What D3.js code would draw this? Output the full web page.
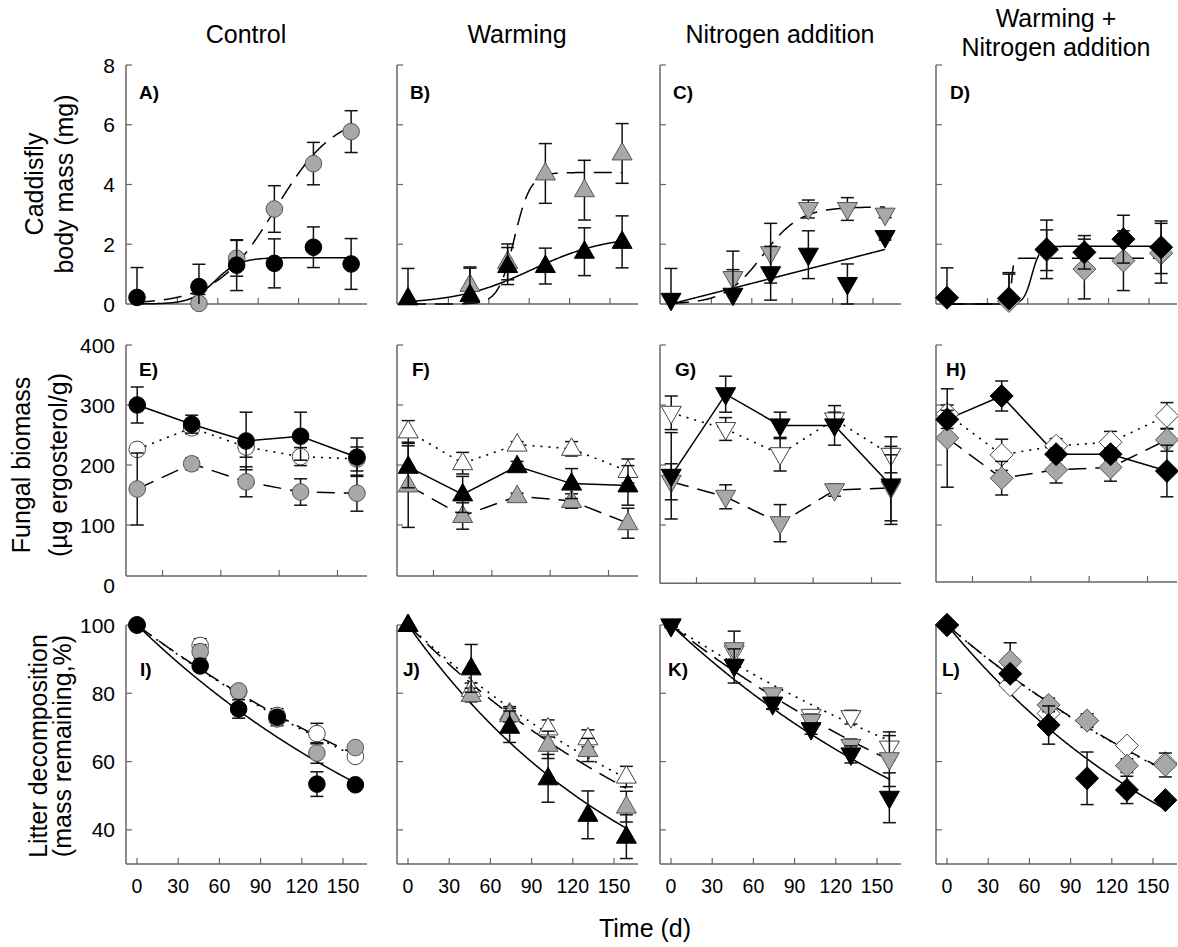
<!DOCTYPE html>
<html><head><meta charset="utf-8">
<script src="https://cdn.jsdelivr.net/npm/d3@7"></script>
<style>body{margin:0;background:#fff}svg{display:block}</style>
</head><body><svg id="c" width="1178" height="947"></svg>
<script>
// ---------- labels ----------
const columnTitles = [["Control"],["Warming"],["Nitrogen addition"],["Warming +","Nitrogen addition"]];
const panelLetters = [["A)","B)","C)","D)"],["E)","F)","G)","H)"],["I)","J)","K)","L)"]];
const rowTitles = [["Caddisfly","body mass (mg)"],["Fungal biomass","(\u00b5g ergosterol/g)"],["Litter decomposition","(mass remaining,%)"]];
const xAxisTitle = "Time (d)";
const shapes = ["circle","up","down","diamond"];

// ---------- x values & ticks ----------
const days = [0,46,74,102,131,159];
const fungalDays = [17,45,73,101,130];
const timeTicks = [0,30,60,90,120,150];
const fungalXTicks = [30,60,90,120];
const massTicks = [0,2,4,6,8];
const fungalTicks = [0,100,200,300,400];
const litterTicks = [40,60,80,100];

// ---------- caddisfly body mass (mg), columns A..D ----------
const caddisBlack = [[0.22,0.58,1.30,1.36,1.90,1.34],[0.19,0.30,1.27,1.27,1.75,2.08],[0.14,0.31,1.03,1.65,0.67,2.24],[0.21,0.19,1.83,1.73,2.17,1.90]];
const caddisBlackErr = [[1.0,0.75,0.85,0.82,0.68,0.85],[1.0,0.9,0.62,0.6,0.8,0.87],[1.05,0.84,0.9,0.8,0.67,0.1],[1.0,0.86,0.98,0.56,0.8,0.88]];
const caddisGray = [[null,0.02,1.53,3.18,4.70,5.77],[null,0.64,1.41,4.37,3.81,5.04],[null,0.87,1.70,3.18,3.18,2.99],[null,0.10,1.80,1.17,1.45,1.70]];
const caddisGrayErr = [[null,0.3,0.6,0.78,0.71,0.7],[null,0.6,0.6,1.0,1.0,1.0],[null,0.9,1.0,0.3,0.38,0.1],[null,0.9,0.68,1.0,1.0,1.0]];
// fitted curves: [a, x0, b] logistic, or [slope] linear
const caddisBlackFit = [[1.55,58,9],[2.3,92,28],[0.0115],[1.93,63,3]];
const caddisGrayFit = [[6.4,103,22],[4.4,79,6],[3.25,68,14],[1.53,48,0.8]];

// ---------- fungal biomass (ug ergosterol/g), columns E..H ----------
const fungalBlack = [[300,268,240,248,213],[197,151,198,169,166],[182,318,266,266,166],[276,315,218,218,190]];
const fungalBlackErr = [[30,15,48,40,32],[35,30,8,25,33],[72,30,22,33,65],[15,25,10,10,43]];
const fungalWhite = [[226,262,230,214,210],[256,203,234,227,190],[287,260,218,276,217],[285,217,232,238,282]];
const fungalWhiteErr = [[6,10,17,15,20],[18,18,5,12,20],[28,19,28,12,30],[15,26,12,18,22]];
const fungalGray = [[160,202,172,155,153],[166,115,148,140,103],[172,147,103,158,162],[245,178,192,196,242]];
const fungalGrayErr = [[60,10,25,22,30],[70,22,5,12,25],[30,20,31,10,55],[82,28,22,23,19]];

// ---------- litter mass remaining (%), columns I..L ----------
const litterBlack = [[100,88.0,75.4,73.0,53.4,53.2],[100,87.3,70.2,55.1,44.4,38.0],[99.7,88.0,77.0,69.5,62.1,49.4],[100,85.7,70.7,55.1,51.7,48.7]];
const litterBlackErr = [[0.5,1.5,2.7,1.5,3.6,1],[0.5,7,4.6,7,7,6.4],[0.5,5,1.5,1.5,2.5,7.3],[0.5,1.5,5.6,7.7,4,1]];
const litterGray = [[100,92.2,80.7,72.5,62.5,64.1],[100,79.5,73.6,64.9,63.4,46.8],[100,92.9,79.7,71.9,64.6,60.7],[100,89.3,76.6,72.0,58.8,59.0]];
const litterGrayErr = [[0.5,2,1.5,2,3,1],[0.5,2,2,4,3.4,4.5],[0.5,5.3,1.5,2,2,8],[0.5,5.5,2,2,2,3.5]];
const litterWhite = [[100,94.0,80.5,73.5,68.2,61.5],[100,81.0,74.1,69.7,66.8,55.6],[100,92,76.8,73.4,73.0,64.1],[100,82.4,74.1,72.0,64.7,59.5]];
const litterWhiteErr = [[0.5,2,1.5,2,3,1],[0.5,2,2,2.5,2.5,3],[0.5,2,1.5,1.5,2,3.5],[0.5,1.5,1.5,1.5,1,1.5]];
// exponential decay rates k (per day): 100*exp(-k t)
const litterBlackK = [0.0039,0.00569,0.00378,0.00488];
const litterGrayK = [0.0030,0.00409,0.00316,0.00348];
const litterWhiteK = [0.00305,0.00375,0.0026,0.0035];

// ---------- layout ----------
const FONT = '"Liberation Sans", Arial, Helvetica, sans-serif';
const colLeft = [126,397,660,936];
const axisW = 241;
const TICK = 6;
const rowsCfg = [
  {yDom:[0,8], yRng:[304,65], yTicks:massTicks, xDom:[0,150], xOff:11, xLen:202, xTicks:timeTicks, xLabels:false, axisVal:[0,0,0,0], letterDx:[13,13,13,14], letterY:99, titleX:[43,73], titleCy:184},
  {yDom:[0,400], yRng:[585,345], yTicks:fungalTicks, xDom:[30,120], xOff:36.5, xLen:175, xTicks:fungalXTicks, xLabels:false, axisVal:[15,15,3,5], letterDx:[13,15,15,10], letterY:376, titleX:[30,67], titleCy:465},
  {yDom:[30,100], yRng:[864,625], yTicks:litterTicks, xDom:[0,150], xOff:11, xLen:206, xTicks:timeTicks, xLabels:true, axisVal:[30,30,30,30], letterDx:[14,6,8,6], letterY:676, titleX:[47,71], titleCy:746}
];
const styles = {
  white:{fill:"#ffffff", stroke:"#444", dash:"2,6", lw:1.6},
  gray:{fill:"#a8a8a8", stroke:"#555", dash:"18,9", lw:1.5},
  black:{fill:"#000", stroke:"#000", dash:null, lw:1.5}
};

const svg = d3.select("#c");

function shapePath(s){
  if(s==="up") return "M0,-11L10,6.5L-10,6.5Z";
  if(s==="down") return "M0,11L10,-6.5L-10,-6.5Z";
  return "M0,-11.5L11.5,0L0,11.5L-11.5,0Z";
}
function fitFn(p){
  if(p.length===1) return x=>p[0]*x;
  return x=>p[0]/(1+Math.exp(-(x-p[1])/p[2]));
}
function expFn(k){ return x=>100*Math.exp(-k*x); }

function seriesFor(r,c){
  if(r===0) return [
    {key:"gray", xs:days, v:caddisGray[c], e:caddisGrayErr[c], f:fitFn(caddisGrayFit[c])},
    {key:"black", xs:days, v:caddisBlack[c], e:caddisBlackErr[c], f:fitFn(caddisBlackFit[c])}
  ];
  if(r===1) return [
    {key:"white", xs:fungalDays, v:fungalWhite[c], e:fungalWhiteErr[c]},
    {key:"gray", xs:fungalDays, v:fungalGray[c], e:fungalGrayErr[c]},
    {key:"black", xs:fungalDays, v:fungalBlack[c], e:fungalBlackErr[c]}
  ];
  return [
    {key:"white", xs:days, v:litterWhite[c], e:litterWhiteErr[c], f:expFn(litterWhiteK[c])},
    {key:"gray", xs:days, v:litterGray[c], e:litterGrayErr[c], f:expFn(litterGrayK[c])},
    {key:"black", xs:days, v:litterBlack[c], e:litterBlackErr[c], f:expFn(litterBlackK[c])}
  ];
}

rowsCfg.forEach((cfg,r)=>{
  colLeft.forEach((left,c)=>{
    const g = svg.append("g");
    const x = d3.scaleLinear().domain(cfg.xDom).range([left+cfg.xOff, left+cfg.xOff+cfg.xLen]);
    const y = d3.scaleLinear().domain(cfg.yDom).range(cfg.yRng);
    const axisY = y(cfg.axisVal[c]);
    const top = y(cfg.yDom[1]);
    const axC = "#666";
    g.append("line").attr("x1",left).attr("x2",left).attr("y1",top).attr("y2",axisY).attr("stroke",axC).attr("stroke-width",1.5);
    g.append("line").attr("x1",left).attr("x2",left+axisW).attr("y1",axisY).attr("y2",axisY).attr("stroke",axC).attr("stroke-width",1.5);
    cfg.yTicks.forEach(t=>{
      if(t>cfg.axisVal[c]) g.append("line").attr("x1",left).attr("x2",left+TICK).attr("y1",y(t)).attr("y2",y(t)).attr("stroke",axC).attr("stroke-width",1.2);
      if(c===0) g.append("text").attr("x",left-11).attr("y",y(t)).attr("dy","0.36em").attr("text-anchor","end")
        .attr("font-family",FONT).attr("font-size",21).text(t);
    });
    cfg.xTicks.forEach(t=>{
      g.append("line").attr("x1",x(t)).attr("x2",x(t)).attr("y1",axisY).attr("y2",axisY-TICK).attr("stroke",axC).attr("stroke-width",1.2);
      if(cfg.xLabels) g.append("text").attr("x",x(t)).attr("y",893).attr("text-anchor","middle")
        .attr("font-family",FONT).attr("font-size",19.5).text(t);
    });
    g.append("text").attr("x",left+cfg.letterDx[c]).attr("y",cfg.letterY).attr("font-family",FONT)
      .attr("font-weight","bold").attr("font-size",19).text(panelLetters[r][c]);

    const ser = seriesFor(r,c);
    ser.forEach(s=>{
      const st = styles[s.key];
      let pts;
      if(s.f){ pts = d3.range(0,159.01,0.5).map(t=>[t,s.f(t)]); }
      else { pts = s.xs.map((t,i)=>[t,s.v[i]]).filter(p=>p[1]!=null); }
      const line = d3.line().x(p=>x(p[0])).y(p=>y(p[1]));
      g.append("path").attr("d",line(pts)).attr("fill","none").attr("stroke","#000")
        .attr("stroke-width",st.lw).attr("stroke-dasharray",st.dash);
    });
    ser.forEach(s=>{
      const st = styles[s.key];
      s.xs.forEach((t,i)=>{
        const v = s.v[i]; if(v==null) return;
        const e = s.e[i], cx = x(t);
        const lo = Math.max(v-e, cfg.yDom[0]), hi = Math.min(v+e, cfg.yDom[1]);
        const clampLo = (v-e) < cfg.axisVal[c]-1e-9;
        const yLo = clampLo ? axisY : y(lo);
        g.append("line").attr("x1",cx).attr("x2",cx).attr("y1",yLo).attr("y2",y(hi)).attr("stroke","#111").attr("stroke-width",1.5);
        g.append("line").attr("x1",cx-6.5).attr("x2",cx+6.5).attr("y1",y(hi)).attr("y2",y(hi)).attr("stroke","#111").attr("stroke-width",1.5);
        if(!clampLo) g.append("line").attr("x1",cx-6.5).attr("x2",cx+6.5).attr("y1",yLo).attr("y2",yLo).attr("stroke","#111").attr("stroke-width",1.5);
        const cy = y(v);
        if(shapes[c]==="circle"){
          g.append("circle").attr("cx",cx).attr("cy",cy).attr("r",8.3).attr("fill",st.fill).attr("stroke",st.stroke).attr("stroke-width",1);
        } else {
          g.append("path").attr("d",shapePath(shapes[c])).attr("transform",`translate(${cx},${cy})`)
            .attr("fill",st.fill).attr("stroke",st.stroke).attr("stroke-width",1);
        }
      });
    });
  });
  rowTitles[r].forEach((line,i)=>{
    svg.append("text").attr("transform",`translate(${cfg.titleX[i]},${cfg.titleCy}) rotate(-90)`)
      .attr("text-anchor","middle").attr("font-family",FONT).attr("font-size",25).text(line);
  });
});

columnTitles.forEach((lines,c)=>{
  const cx = colLeft[c]+120;
  const ys = lines.length===1 ? [43] : [27,56];
  lines.forEach((l,i)=>{
    svg.append("text").attr("x",cx).attr("y",ys[i]).attr("text-anchor","middle")
      .attr("font-family",FONT).attr("font-size",25).text(l);
  });
});
svg.append("text").attr("x",645).attr("y",937).attr("text-anchor","middle")
  .attr("font-family",FONT).attr("font-size",25).text(xAxisTitle);
</script></body></html>
